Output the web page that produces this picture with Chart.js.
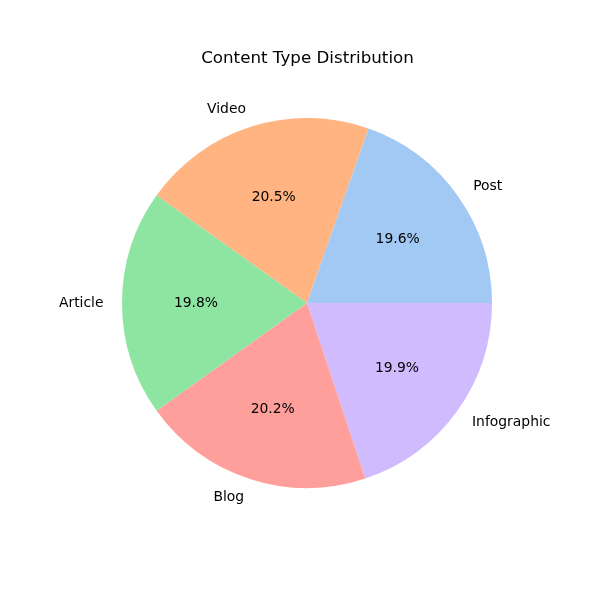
<!DOCTYPE html>
<html>
<head>
<meta charset="utf-8">
<script src="https://cdn.jsdelivr.net/npm/chart.js@4"></script>
<style>
  html, body { margin: 0; padding: 0; background: #ffffff; }
  #wrap { width: 600px; height: 600px; }
</style>
</head>
<body>
<div id="wrap"><canvas id="pieChart" width="600" height="600"></canvas></div>
<script>
// data, in the order matplotlib draws them (counter-clockwise from 3 o'clock)
const categories = ["Post", "Video", "Article", "Blog", "Infographic"];
const shares = [19.6, 20.5, 19.8, 20.2, 19.9];
const colors = ["#a1c9f4", "#ffb482", "#8de5a1", "#ff9f9b", "#d0bbff"];
const titleText = "Content Type Distribution";

// Chart.js goes clockwise, so feed it reversed and start at 3 o'clock
const labels = categories.slice().reverse();
const values = shares.slice().reverse();
const bg = colors.slice().reverse();

const fontFamily = "'DejaVu Sans', sans-serif";

const pieText = {
  id: "pieText",
  afterDraw(chart) {
    const c = chart.ctx;
    const meta = chart.getDatasetMeta(0);
    c.save();
    c.fillStyle = "#000000";
    c.textBaseline = "middle";

    // title
    c.font = "16.7px " + fontFamily;
    c.textAlign = "center";
    c.fillText(titleText, 307.5, 58.5);

    meta.data.forEach((arc, i) => {
      const p = arc.getProps(["x", "y", "startAngle", "endAngle", "outerRadius"], true);
      const mid = (p.startAngle + p.endAngle) / 2;
      const cos = Math.cos(mid);
      const sin = Math.sin(mid);

      // outside label
      c.font = "13.9px " + fontFamily;
      c.textAlign = cos >= 0 ? "left" : "right";
      c.fillText(labels[i], p.x + cos * p.outerRadius * 1.1, p.y + sin * p.outerRadius * 1.1 + 0.5);

      // percentage
      c.textAlign = "center";
      c.fillText(values[i].toFixed(1) + "%", p.x + cos * p.outerRadius * 0.6, p.y + sin * p.outerRadius * 0.6 + 0.5);
    });
    c.restore();
  }
};

new Chart(document.getElementById("pieChart").getContext("2d"), {
  type: "pie",
  data: {
    labels: labels,
    datasets: [{
      data: values,
      backgroundColor: bg,
      borderWidth: 0
    }]
  },
  options: {
    responsive: false,
    animation: false,
    rotation: 90,
    layout: { padding: { left: 122, right: 108, top: 118, bottom: 112 } },
    plugins: {
      legend: { display: false },
      title: { display: false },
      tooltip: { enabled: false }
    }
  },
  plugins: [pieText]
});
</script>
</body>
</html>
